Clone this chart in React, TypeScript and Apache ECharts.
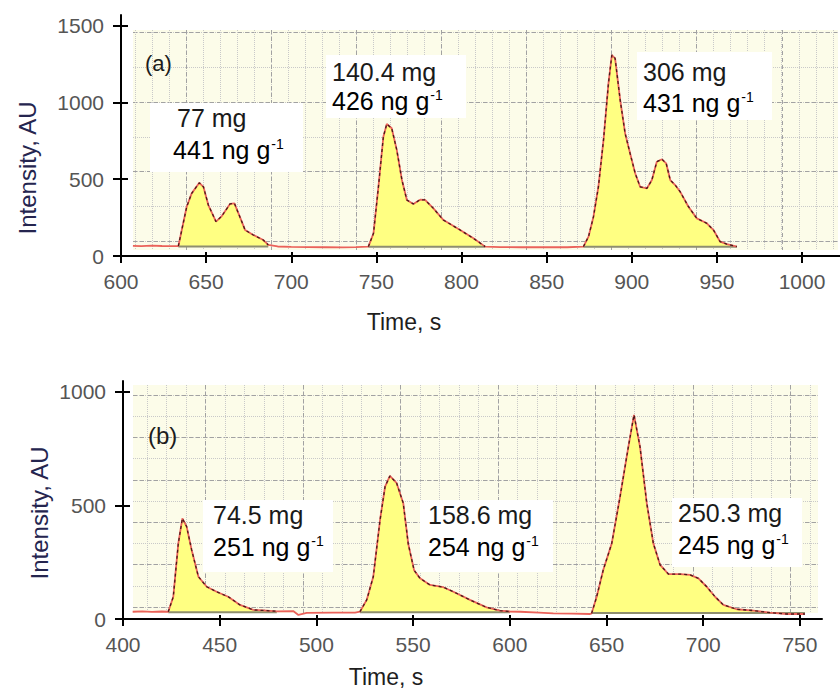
import React, { useEffect, useRef } from "react";
import * as echarts from "echarts";

const FONT = "'Liberation Sans', Arial, Helvetica, sans-serif";

// ---------------- Panel (a) data ----------------
const timeA = [607, 612, 618, 624, 630, 633.7, 638.6, 641.5, 646, 648.4, 651.3, 655.8, 659.2, 664, 666.6, 669, 672.9, 677.7, 683.6, 686.5, 692, 700, 710, 720, 730, 738, 745.3, 748.3, 751.2, 754.1, 756.1, 759, 762, 765, 767.9, 771.7, 775.7, 778.6, 783.5, 789.4, 799.2, 807, 813.9, 822.7, 835, 850, 862, 871.6, 874.6, 877.5, 880.4, 883.4, 886.3, 888.3, 890.2, 893.2, 896.1, 899, 902, 904.9, 908.9, 911.8, 914.7, 917.7, 920.2, 922.6, 925.5, 928.4, 933.3, 938.2, 944.1, 948, 951.9, 955.8, 961.7];
const intensityA = [66, 64, 67, 65, 64, 65, 321, 408, 477, 451, 332, 224, 260, 339, 343, 278, 169, 137, 104, 72, 62, 60, 58, 57, 56, 58, 61, 148, 451, 777, 860, 832, 690, 495, 365, 339, 367, 365, 310, 234, 169, 115, 61, 58, 57, 58, 57, 61, 126, 256, 451, 756, 1125, 1309, 1288, 1016, 799, 669, 539, 451, 441, 495, 614, 630, 604, 495, 462, 419, 321, 245, 213, 169, 93, 78, 61];
const peakStartA = [633.7, 745.3, 871.6];
const peakEndA = [686.5, 813.9, 961.7];
const peakBaseA = [62, 60, 60];
const xTicksA = [600, 650, 700, 750, 800, 850, 900, 950, 1000];
const yTicksA = [0, 500, 1000, 1500];
const massA = ["77 mg", "140.4 mg", "306 mg"];
const concA = ["441 ng g", "426 ng g", "431 ng g"];

// ---------------- Panel (b) data ----------------
const timeB = [405, 410, 415, 420, 423.4, 426, 428.6, 430.7, 432.9, 435.5, 439, 443.3, 448.4, 454.4, 460.5, 467.4, 474.3, 479.5, 488, 490.7, 495, 508.7, 520, 522.5, 526, 529.4, 532.9, 535.5, 538, 541.5, 544.9, 547.5, 550.5, 553.6, 558.7, 565.6, 570.8, 579.4, 588, 594.9, 600, 605.3, 615, 622.5, 632, 641.5, 642.3, 644.9, 648.3, 652.7, 657, 661.3, 664.2, 667.3, 670.8, 674.2, 677.7, 682, 688, 693.2, 697.5, 701.8, 706.1, 710.4, 717.3, 725.9, 734.5, 743.1, 752.6];
const intensityB = [32, 34, 31, 33, 32, 98, 333, 443, 407, 304, 186, 142, 120, 98, 62, 40, 37, 34, 35, 18, 27, 28, 28, 32, 84, 186, 436, 583, 630, 598, 510, 330, 215, 179, 150, 140, 120, 84, 51, 37, 33, 32, 28, 25, 24, 22, 25, 98, 216, 333, 539, 759, 899, 759, 510, 333, 238, 198, 198, 194, 179, 142, 98, 62, 43, 37, 28, 22, 22];
const peakStartB = [423.4, 522.5, 642.3];
const peakEndB = [479.5, 600, 752.6];
const peakBaseB = [30, 30, 26];
const xTicksB = [400, 450, 500, 550, 600, 650, 700, 750];
const yTicksB = [0, 500, 1000];
const massB = ["74.5 mg", "158.6 mg", "250.3 mg"];
const concB = ["251 ng g", "254 ng g", "245 ng g"];

// ---------------- layout (pixels) ----------------
const layoutA = {
  main: { left: 121, top: 15, width: 719, height: 241 },
  xMin: 600, xMax: 1022.3, yMax: 1570,
  fill: { left: 133, top: 30, width: 705, height: 220 },
  vMinor: { left: 135, top: 30, width: 697.8, height: 220 }, vMinorCount: 41,
  vMajor: { left: 186.1, top: 30, width: 595.7, height: 220 }, vMajorCount: 35,
  h: { left: 133, top: 32.5, width: 705, height: 208.5 }, hCount: 6,
  label: { text: "(a)", x: 145, y: 63, size: 22 },
  notes: [
    { box: [150, 103, 153, 69], x1: 177, y1: 118, x2: 173, y2: 150 },
    { box: [326, 55, 140, 63], x1: 332, y1: 72, x2: 332, y2: 101 },
    { box: [637, 52, 135, 68], x1: 643, y1: 72, x2: 643, y2: 103 },
  ],
  xTitle: { x: 404, y: 322 },
  yTitle: { x: 27, y: 168 },
};
const layoutB = {
  main: { left: 123, top: 381, width: 699, height: 238 },
  xMin: 400, xMax: 761.4, yMax: 1048,
  fill: { left: 133, top: 385, width: 685, height: 228 },
  vMinor: { left: 147, top: 385, width: 663, height: 228 }, vMinorCount: 34,
  vMajor: { left: 205.5, top: 385, width: 585, height: 228 }, vMajorCount: 30,
  h: { left: 133, top: 395, width: 685, height: 212 }, hCount: 10,
  label: { text: "(b)", x: 148, y: 435, size: 24 },
  notes: [
    { box: [203, 500, 130, 72], x1: 213, y1: 515, x2: 213, y2: 547 },
    { box: [420, 500, 133, 72], x1: 428, y1: 515, x2: 428, y2: 547 },
    { box: [672, 498, 130, 69], x1: 678, y1: 513, x2: 678, y2: 545 },
  ],
  xTitle: { x: 386, y: 677 },
  yTitle: { x: 39, y: 513 },
};

const BG = "#fcfce9";
const MINOR = { color: "#c9c9c9", width: 1, type: "dotted" as const };
const MAJOR = { color: "#a2a2a2", width: 1, type: [4, 3] as any };
const TICK_LABEL = { fontFamily: FONT, fontSize: 21, color: "#555555", formatter: (v: number) => String(v) };

function buildPanel(
  time: number[], intensity: number[], starts: number[], ends: number[], bases: number[],
  xTicks: number[], yTicks: number[], mass: string[], conc: string[], L: any,
  gi: number, xi: number, yi: number
) {
  const grids = [
    { ...L.main, show: false },
    { ...L.fill, show: true, backgroundColor: BG, borderWidth: 0 },
    { ...L.vMinor, show: false },
    { ...L.vMajor, show: false },
    { ...L.h, show: false },
  ].map((g) => ({ ...g, containLabel: false, outerBoundsMode: "none" }));

  const hidden = {
    type: "value", axisLine: { show: false }, axisTick: { show: false },
    axisLabel: { show: false }, splitLine: { show: false },
  };
  const blackLine = { color: "#000", width: 2 };

  const xAxes = [
    {
      type: "value", gridIndex: gi, position: "bottom", min: L.xMin, max: L.xMax,
      axisLine: { show: true, onZero: false, lineStyle: blackLine },
      axisTick: { show: true, length: 7, customValues: xTicks, lineStyle: blackLine },
      axisLabel: { show: true, customValues: xTicks, margin: 15, ...TICK_LABEL },
      splitLine: { show: false },
    },
    {
      type: "value", gridIndex: gi, position: "bottom", min: L.xMin, max: L.xMax,
      axisLine: { show: false, onZero: false },
      axisTick: { show: true, inside: true, length: 4, customValues: xTicks, lineStyle: blackLine },
      axisLabel: { show: false }, splitLine: { show: false },
    },
    { ...hidden, gridIndex: gi + 1, min: 0, max: 1 },
    { ...hidden, gridIndex: gi + 2, min: 0, max: L.vMinorCount, interval: 1, splitLine: { show: true, lineStyle: MINOR } },
    { ...hidden, gridIndex: gi + 3, min: 0, max: L.vMajorCount, interval: 5, splitLine: { show: true, lineStyle: MAJOR } },
    { ...hidden, gridIndex: gi + 4, min: 0, max: 1 },
  ];
  const yAxes = [
    {
      type: "value", gridIndex: gi, position: "left", min: 0, max: L.yMax,
      axisLine: { show: true, onZero: false, lineStyle: blackLine },
      axisTick: { show: true, length: 8, customValues: yTicks, lineStyle: blackLine },
      axisLabel: { show: true, customValues: yTicks, margin: 17, ...TICK_LABEL },
      splitLine: { show: false },
    },
    {
      type: "value", gridIndex: gi, position: "left", min: 0, max: L.yMax,
      axisLine: { show: false, onZero: false },
      axisTick: { show: true, inside: true, length: 7, customValues: yTicks, lineStyle: blackLine },
      axisLabel: { show: false }, splitLine: { show: false },
    },
    { ...hidden, gridIndex: gi + 1, min: 0, max: 1 },
    { ...hidden, gridIndex: gi + 2, min: 0, max: 1 },
    { ...hidden, gridIndex: gi + 3, min: 0, max: 1 },
    { ...hidden, gridIndex: gi + 4, position: "left", min: 0, max: L.hCount, interval: 1, splitLine: { show: true, lineStyle: MINOR } },
    { ...hidden, gridIndex: gi + 4, position: "left", min: 0, max: L.hCount, interval: 2, splitLine: { show: true, lineStyle: MAJOR } },
  ];

  const trace = time.map((t, i) => [t, intensity[i]]);
  const common = { type: "line", xAxisIndex: xi, yAxisIndex: yi, symbol: "none", silent: true, animation: false };
  const series: any[] = [];
  starts.forEach((s, k) => {
    const seg = trace.filter((p) => p[0] >= s && p[0] <= ends[k]);
    series.push({
      ...common, data: seg, z: 2,
      lineStyle: { width: 0, opacity: 0 },
      areaStyle: { color: "#ffff82", opacity: 1, origin: bases[k] },
    });
    series.push({
      ...common, data: [[s, bases[k]], [ends[k], bases[k]]], z: 3,
      lineStyle: { color: "#8e8e6e", width: 2 },
    });
  });
  series.push({ ...common, data: trace, z: 4, lineStyle: { color: "#ea625a", width: 1.8 } });
  starts.forEach((s, k) => {
    const seg = trace.filter((p) => p[0] >= s && p[0] <= ends[k]);
    series.push({ ...common, data: seg, z: 5, lineStyle: { color: "#4a1a1a", width: 1.3, type: [3, 3] } });
  });

  const graphics: any[] = [];
  graphics.push({
    type: "text", x: L.label.x, y: L.label.y, z: 10,
    style: { text: L.label.text, font: `${L.label.size}px ${FONT}`, fill: "#1c1c1c", verticalAlign: "middle", align: "left" },
  });
  L.notes.forEach((n: any, k: number) => {
    graphics.push({
      type: "rect", z: 9, shape: { x: n.box[0], y: n.box[1], width: n.box[2], height: n.box[3] },
      style: { fill: "#ffffff" },
    });
    graphics.push({
      type: "text", x: n.x1, y: n.y1, z: 10,
      style: { text: mass[k], font: `25px ${FONT}`, fill: "#1a1a1a", verticalAlign: "middle", align: "left" },
    });
    graphics.push({
      type: "text", x: n.x2, y: n.y2, z: 10,
      style: {
        text: `{c|${conc[k]}}{s|-1}`, verticalAlign: "middle", align: "left",
        rich: {
          c: { fontFamily: FONT, fontSize: 25, color: "#1a1a1a", lineHeight: 30 },
          s: { fontFamily: FONT, fontSize: 14, color: "#1a1a1a", verticalAlign: "top", padding: [2, 0, 0, 1] },
        },
      },
    });
  });
  graphics.push({
    type: "text", x: L.xTitle.x, y: L.xTitle.y, z: 10,
    style: { text: "Time, s", font: `23px ${FONT}`, fill: "#1e1e1e", align: "center", verticalAlign: "middle" },
  });
  graphics.push({
    type: "text", x: L.yTitle.x, y: L.yTitle.y, rotation: Math.PI / 2, z: 10,
    style: { text: "Intensity, AU", font: `24px ${FONT}`, fill: "#25254f", align: "center", verticalAlign: "middle" },
  });

  return { grids, xAxes, yAxes, series, graphics };
}

function buildOption() {
  const a = buildPanel(timeA, intensityA, peakStartA, peakEndA, peakBaseA, xTicksA, yTicksA, massA, concA, layoutA, 0, 0, 0);
  const b = buildPanel(timeB, intensityB, peakStartB, peakEndB, peakBaseB, xTicksB, yTicksB, massB, concB, layoutB, 5, 6, 7);
  return {
    animation: false,
    backgroundColor: "#ffffff",
    grid: [...a.grids, ...b.grids],
    xAxis: [...a.xAxes, ...b.xAxes],
    yAxis: [...a.yAxes, ...b.yAxes],
    series: [...a.series, ...b.series],
    graphic: { elements: [...a.graphics, ...b.graphics] },
  };
}

export default function App() {
  const ref = useRef<HTMLDivElement>(null);
  useEffect(() => {
    document.body.style.margin = "0";
    if (!ref.current) return;
    const chart = echarts.init(ref.current, null, { renderer: "svg" });
    chart.setOption(buildOption() as any);
    return () => chart.dispose();
  }, []);
  return <div ref={ref} style={{ width: 840, height: 689 }} />;
}
